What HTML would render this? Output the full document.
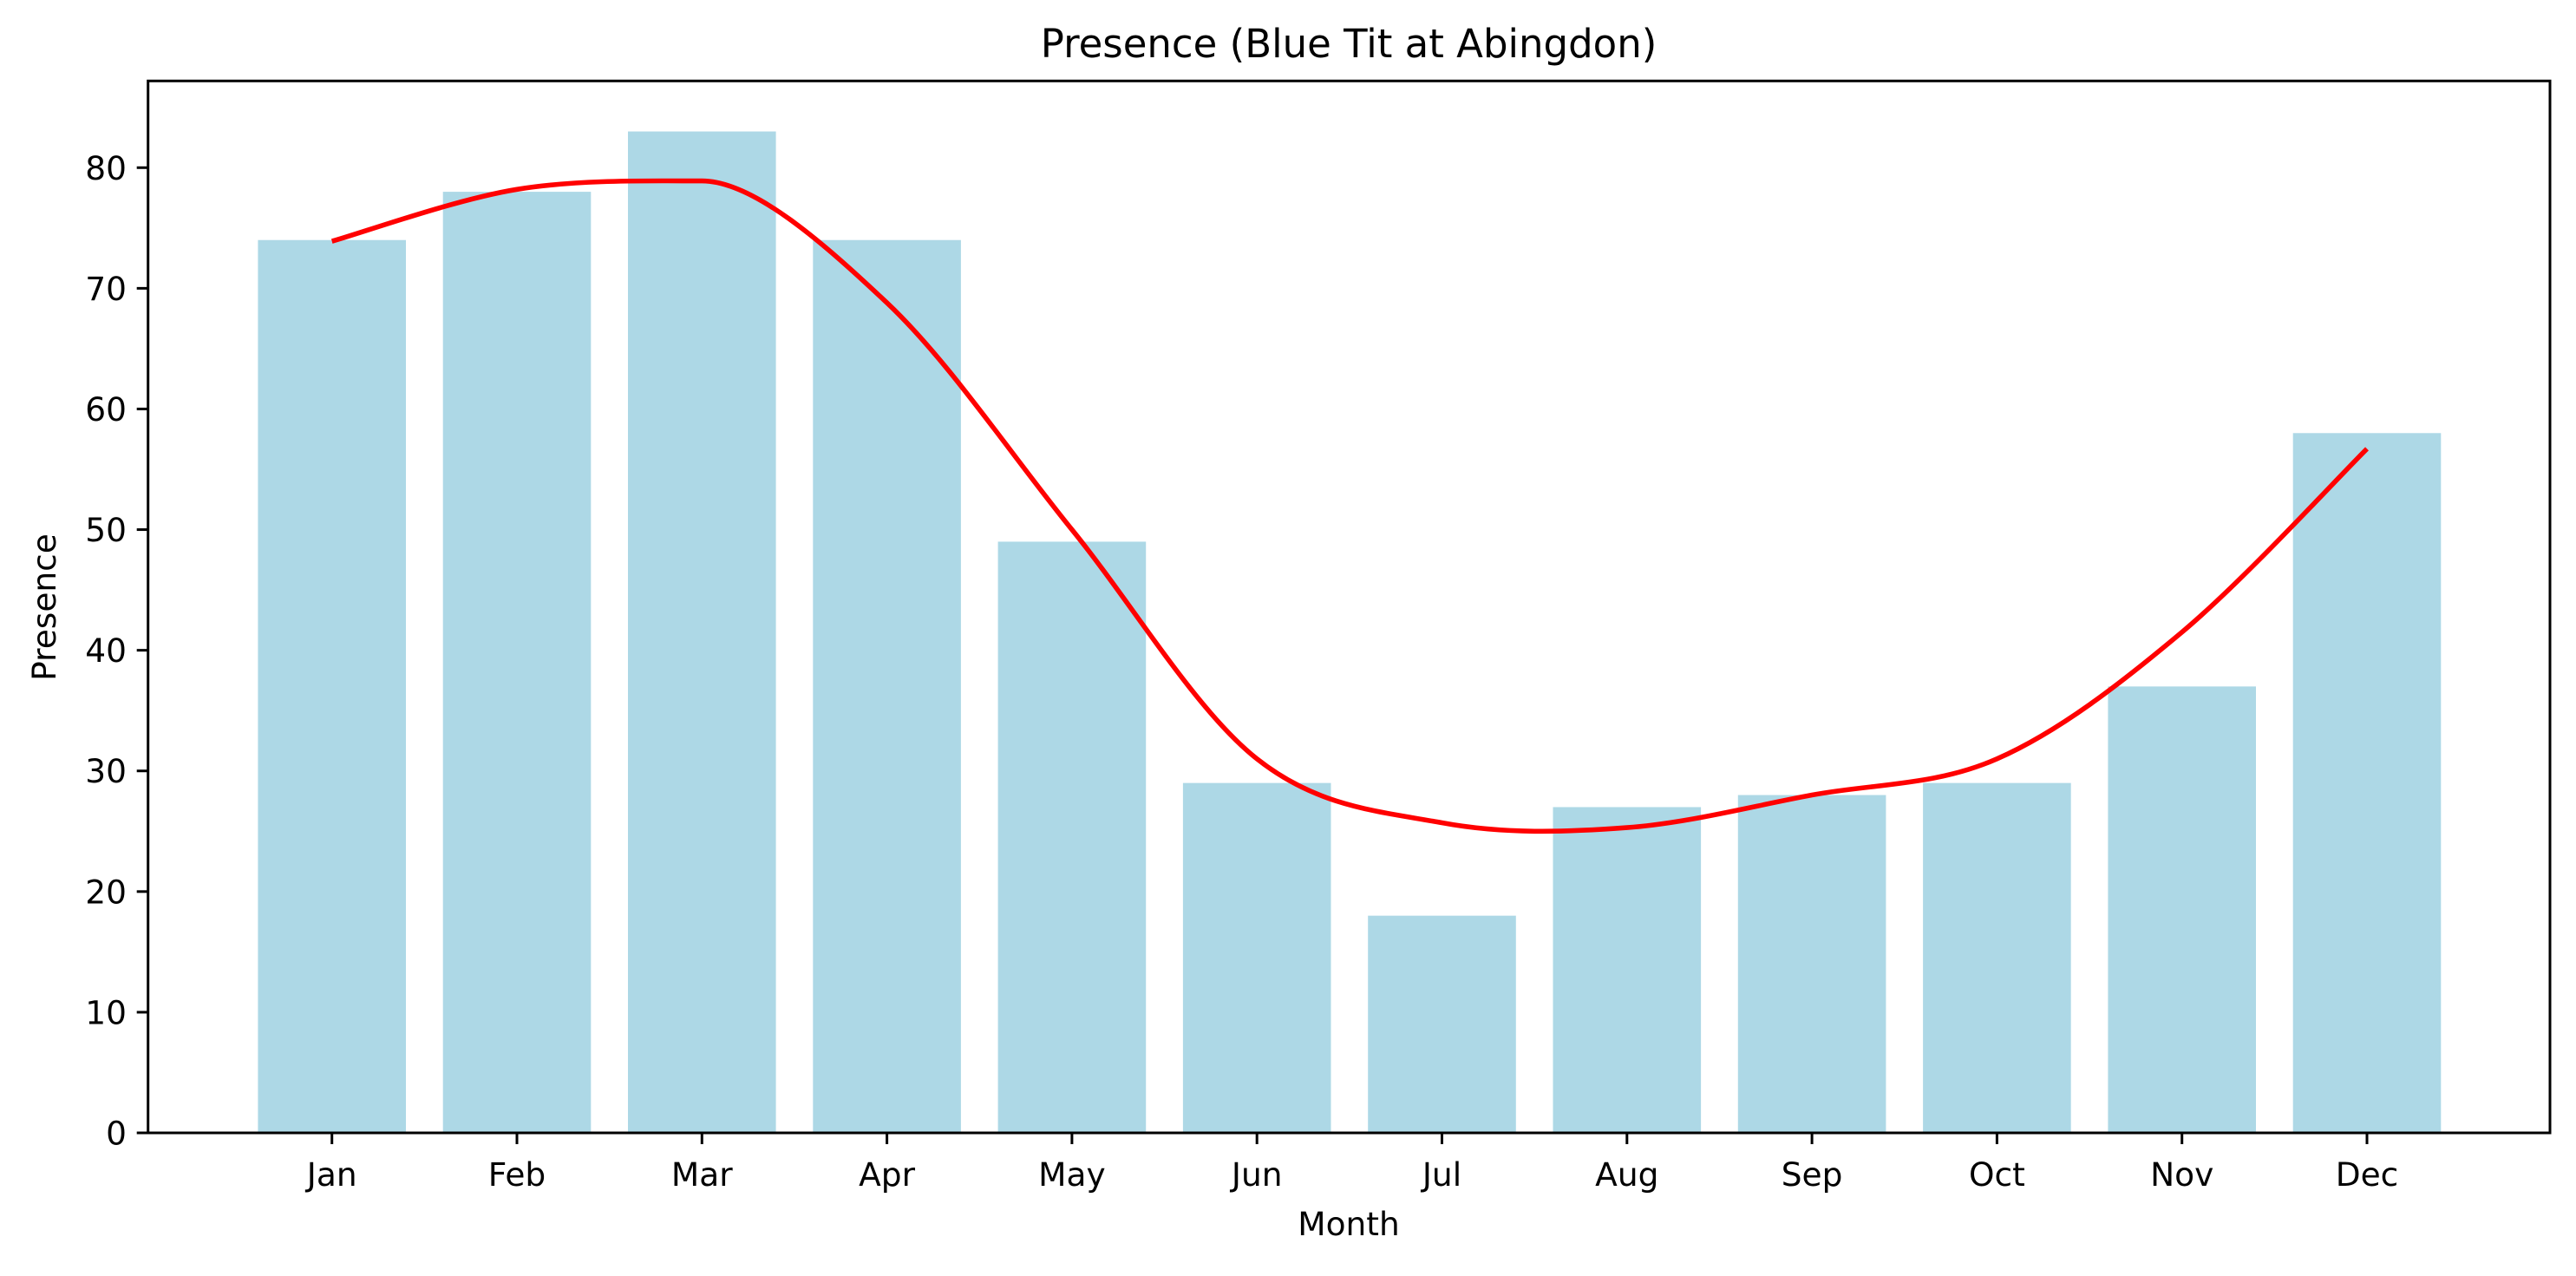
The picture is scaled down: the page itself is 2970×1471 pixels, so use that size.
<!DOCTYPE html>
<html><head><meta charset="utf-8"><style>
html,body{margin:0;padding:0;background:#fff;}
svg text{font-family:"DejaVu Sans","Liberation Sans",sans-serif;fill:#000;}
</style></head><body>
<svg id="s" width="2970" height="1466" xmlns="http://www.w3.org/2000/svg">
<rect width="2970" height="1466" fill="#fff"/>
<g id="bars"></g>
<path id="curve" fill="none" stroke="#ff0000" stroke-width="5.6" stroke-linejoin="round"/>
<rect x="170.7" y="93.3" width="2769.3" height="1212.7" fill="none" stroke="#000" stroke-width="3"/>
<g id="ticks"></g>
<text x="1555" y="66" font-size="45" text-anchor="middle">Presence (Blue Tit at Abingdon)</text>
<text x="1555" y="1424" font-size="37.5" text-anchor="middle">Month</text>
<text transform="translate(64,700) rotate(-90)" font-size="37.5" text-anchor="middle">Presence</text>
</svg>
<script>
var ns="http://www.w3.org/2000/svg";
var vals=[74,78,83,74,49,29,18,27,28,29,37,58];
var months=["Jan","Feb","Mar","Apr","May","Jun","Jul","Aug","Sep","Oct","Nov","Dec"];
var curve=[73.9,78.2,78.9,68.8,50,31,25.7,25.3,28,31,41.5,56.7];
function X(i){return 382.7+i*213.3;}
function Y(v){return 1306-v*13.909;}
var bars=document.getElementById("bars"),ticks=document.getElementById("ticks");
function el(t,a,p,txt){var e=document.createElementNS(ns,t);for(var k in a)e.setAttribute(k,a[k]);if(txt)e.textContent=txt;p.appendChild(e);}
vals.forEach(function(v,i){
 el("rect",{x:X(i)-85.3,y:Y(v),width:170.6,height:1306-Y(v),fill:"#add8e6"},bars);
 el("line",{x1:X(i),y1:1306,x2:X(i),y2:1319,stroke:"#000","stroke-width":3},ticks);
 el("text",{x:X(i),y:1367,"font-size":37.5,"text-anchor":"middle"},ticks,months[i]);
});
for(var v=0;v<=80;v+=10){
 el("line",{x1:157.7,y1:Y(v),x2:170.7,y2:Y(v),stroke:"#000","stroke-width":3},ticks);
 el("text",{x:146,y:Y(v)+13.5,"font-size":37.5,"text-anchor":"end"},ticks,String(v));
}
var P=curve.map(function(v,i){return [X(i),Y(v)];});
var d="M"+P[0][0]+","+P[0][1];
for(var i=0;i<P.length-1;i++){
 var p0=P[Math.max(i-1,0)],p1=P[i],p2=P[i+1],p3=P[Math.min(i+2,P.length-1)];
 var c1=[p1[0]+(p2[0]-p0[0])/6,p1[1]+(p2[1]-p0[1])/6];
 var c2=[p2[0]-(p3[0]-p1[0])/6,p2[1]-(p3[1]-p1[1])/6];
 if(i==1){c2=[p2[0]-60,p2[1]];}
 if(i==2){c1=[p1[0]+60,p1[1]];}
 d+=" C"+c1+" "+c2+" "+p2;
}
document.getElementById("curve").setAttribute("d",d);
</script>
</body></html>
